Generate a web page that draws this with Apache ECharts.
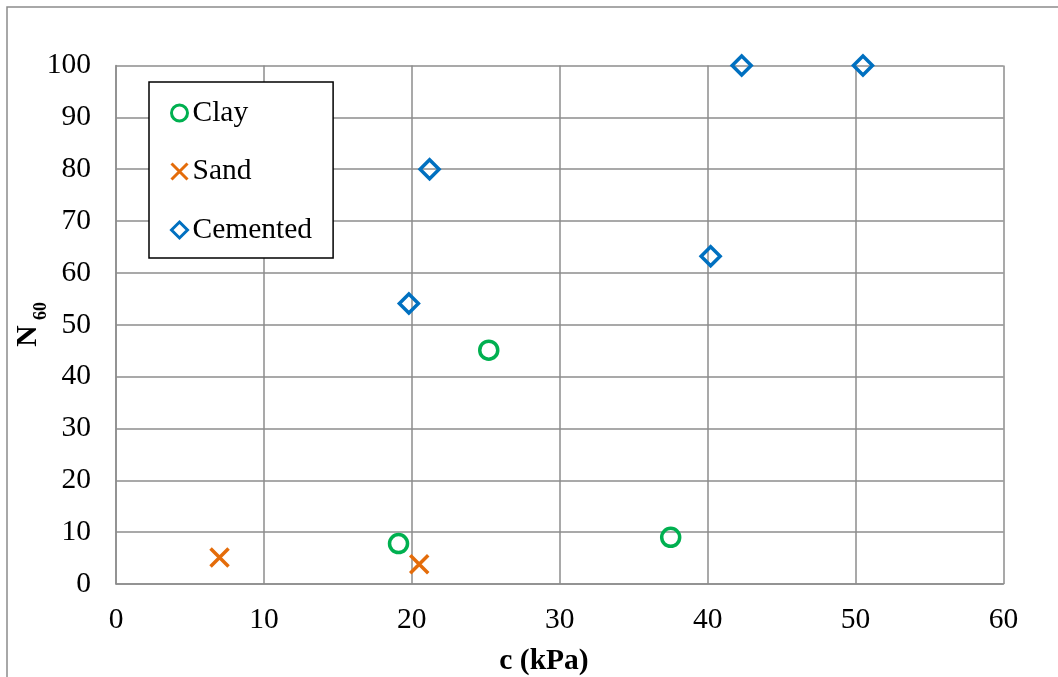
<!DOCTYPE html>
<html>
<head>
<meta charset="utf-8">
<script src="https://cdn.jsdelivr.net/npm/echarts@6/dist/echarts.min.js"></script>
<style>
html,body{margin:0;padding:0;background:#fff;}
#chart{width:1058px;height:677px;}
</style>
</head>
<body>
<div id="chart"></div>
<script>
// Data
const clayData = [[19.1, 7.8], [25.2, 45.1], [37.5, 9.0]];
const sandData = [[7.0, 5.1], [20.5, 3.8]];
const cementedData = [[19.8, 54.1], [21.2, 80.0], [40.2, 63.2], [42.3, 100], [50.5, 100]];
const seriesNames = ['Clay', 'Sand', 'Cemented'];
const xTitle = 'c (kPa)';
const yTitleMain = 'N';
const yTitleSub = '60';

const FONT = "'Liberation Serif', 'Times New Roman', serif";
const GRID_COLOR = '#8c8c8c';
const FS = 29.5;

const chart = echarts.init(document.getElementById('chart'), null, {renderer: 'canvas'});
chart.setOption({
  animation: false,
  backgroundColor: '#fff',
  textStyle: {fontFamily: FONT},
  grid: {left: 116, right: 54.5, top: 65.5, bottom: 93, containLabel: false},
  xAxis: {
    type: 'value', min: 0, max: 60, interval: 10,
    axisLine: {show: true, lineStyle: {color: GRID_COLOR, width: 1.5}},
    axisTick: {show: false},
    splitLine: {show: true, lineStyle: {color: GRID_COLOR, width: 1.5}},
    axisLabel: {color: '#000', fontFamily: FONT, fontSize: FS, margin: 21}
  },
  yAxis: {
    type: 'value', min: 0, max: 100, interval: 10,
    axisLine: {show: true, lineStyle: {color: GRID_COLOR, width: 1.5}},
    axisTick: {show: false},
    splitLine: {show: true, lineStyle: {color: GRID_COLOR, width: 1.5}},
    axisLabel: {color: '#000', fontFamily: FONT, fontSize: FS, margin: 25}
  },
  legend: {
    orient: 'vertical',
    left: 149, top: 82,
    data: seriesNames,
    itemWidth: 16, itemHeight: 16,
    itemGap: 28.5,
    padding: [16, 21, 13, 21],
    borderColor: '#000', borderWidth: 1.5,
    backgroundColor: '#fff',
    itemStyle: {borderWidth: 3},
    textStyle: {fontFamily: FONT, fontSize: FS, color: '#000'}
  },
  graphic: [
    {type: 'rect', z: -10, silent: true,
     shape: {x: 7, y: 7, width: 1200, height: 800},
     style: {fill: 'none', stroke: GRID_COLOR, lineWidth: 1.5}},
    {type: 'text', x: 544, y: 661,
     style: {text: xTitle, fontFamily: FONT, fontSize: FS, fontWeight: 'bold', fill: '#000', align: 'center', verticalAlign: 'middle'}},
    {type: 'text', x: 28, y: 336, rotation: Math.PI / 2,
     style: {text: yTitleMain, fontFamily: FONT, fontSize: FS, fontWeight: 'bold', fill: '#000', align: 'center', verticalAlign: 'middle'}},
    {type: 'text', x: 41, y: 311, rotation: Math.PI / 2,
     style: {text: yTitleSub, fontFamily: FONT, fontSize: 18, fontWeight: 'bold', fill: '#000', align: 'center', verticalAlign: 'middle'}}
  ],
  series: [
    {
      name: seriesNames[0], type: 'scatter', data: clayData,
      symbol: 'circle', symbolSize: 18,
      itemStyle: {color: 'rgba(0,0,0,0)', borderColor: '#00B050', borderWidth: 3.5, opacity: 1}
    },
    {
      name: seriesNames[1], type: 'scatter', data: sandData,
      symbol: 'path://M0,0L10,10M0,10L10,0', symbolSize: 18,
      itemStyle: {color: 'rgba(0,0,0,0)', borderColor: '#E46C0A', borderWidth: 3.5, opacity: 1}
    },
    {
      name: seriesNames[2], type: 'scatter', data: cementedData,
      symbol: 'diamond', symbolSize: 19,
      itemStyle: {color: 'rgba(0,0,0,0)', borderColor: '#0070C0', borderWidth: 3.5, opacity: 1}
    }
  ]
});
</script>
</body>
</html>
